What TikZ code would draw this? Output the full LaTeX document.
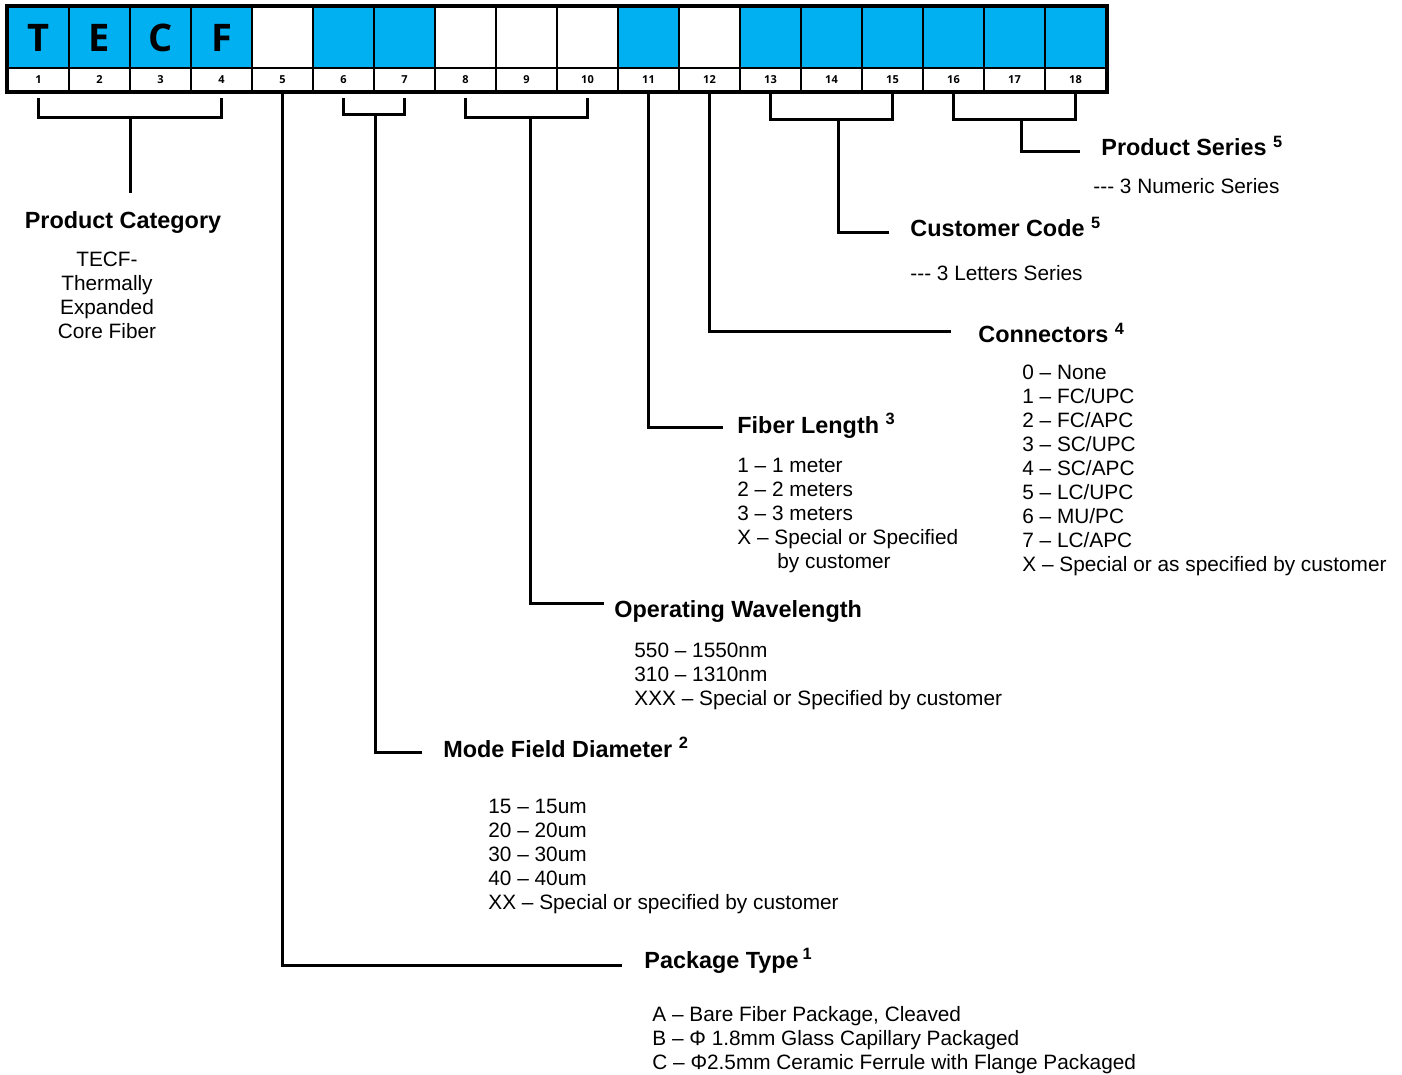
\documentclass[tikz,border=0pt]{standalone}
\usepackage{fontspec}
\setmainfont{Liberation Sans}
\newfontfamily\barfont{Open Sans}
\usepackage{xcolor}
\usepackage{tikz}
\usetikzlibrary{calc,positioning}
\definecolor{codeblue}{RGB}{0,176,240}

\begin{document}
\begin{tikzpicture}[x=0.5pt,y=-0.5pt,
      cell/.style={draw=black,line width=1.2pt,minimum width=30.5pt,minimum height=31pt,inner sep=0pt,
        font=\barfont\bfseries\fontsize{19}{19}\selectfont},
      numcell/.style={draw=black,fill=white,line width=1.2pt,minimum width=30.5pt,minimum height=11.5pt,inner sep=0pt,
        font=\barfont\bfseries\fontsize{5.5}{5.5}\selectfont},
      wire/.style={line width=1.5pt},
      title/.style={anchor=base west,inner sep=0pt,font=\bfseries\fontsize{11.7}{14}\selectfont},
      items/.style={anchor=north west,inner sep=0pt,align=left,font=\fontsize{10.4}{12}\selectfont}]
    \useasboundingbox (0,0) rectangle (1402,1075);
    % code bar
    \foreach \i/\clr/\ltr in {1/codeblue/T,2/codeblue/E,3/codeblue/C,4/codeblue/F,5/white/,6/codeblue/,
        7/codeblue/,8/white/,9/white/,10/white/,11/codeblue/,12/white/,13/codeblue/,14/codeblue/,
        15/codeblue/,16/codeblue/,17/codeblue/,18/codeblue/}{
      \node[cell,fill=\clr] (c\i) at ({38.5+61*(\i-1)},37.5) {\ltr};
      \node[numcell] (n\i) at ({38.5+61*(\i-1)},79.5) {\i};
    }
    \draw[line width=1.5pt] (c1.north west) rectangle (n18.south east);

    % product category
    \coordinate (catbr) at (130,118);
    \coordinate (catend) at (130,193);
    \draw[wire] ([yshift=-3pt]n1.south) |- (catbr) -| ([yshift=-3pt]n4.south);
    \draw[wire] (catbr) -- (catend);
    \node[title,anchor=base] (cat) at (123,229) {Product Category};
    \node[items,anchor=north,align=center] (catlist) at (107,252) {TECF-\\Thermally\\Expanded\\Core Fiber};

    % package type
    \coordinate (pkgend) at (622,965);
    \draw[wire] (n5.south) |- (pkgend);
    \node[title] (pkg) at (644,968) {Package Type\,\textsuperscript{1}};
    \node[items] (pkglist) at (652,1006) {A -- Bare Fiber Package, Cleaved\\B -- Φ 1.8mm Glass Capillary Packaged\\C -- Φ2.5mm Ceramic Ferrule with Flange Packaged};

    % mode field diameter
    \coordinate (mfdbr) at (375,115);
    \coordinate (mfdend) at (422,752);
    \draw[wire] ([yshift=-3pt]n6.south) |- (mfdbr) -| ([yshift=-3pt]n7.south);
    \draw[wire] (mfdbr) |- (mfdend);
    \node[title] (mfd) at (443,757) {Mode Field Diameter \textsuperscript{2}};
    \node[items] (mfdlist) at (488,799) {15 -- 15um\\20 -- 20um\\30 -- 30um\\40 -- 40um\\XX -- Special or specified by customer};

    % operating wavelength
    \coordinate (owlbr) at (530,118);
    \coordinate (owlend) at (604,603);
    \draw[wire] ([yshift=-3pt]n8.south) |- (owlbr) -| ([yshift=-3pt]n10.south);
    \draw[wire] (owlbr) |- (owlend);
    \node[title] (owl) at (614,617) {Operating Wavelength};
    \node[items] (owllist) at (634,643) {550 -- 1550nm\\310 -- 1310nm\\XXX -- Special or Specified by customer};

    % fiber length
    \coordinate (fibend) at (723,427);
    \draw[wire] (n11.south) |- (fibend);
    \node[title] (fib) at (737,433) {Fiber Length \textsuperscript{3}};
    \node[items] (fiblist) at (737,458) {1 -- 1 meter\\2 -- 2 meters\\3 -- 3 meters\\X -- Special or Specified\\\hspace*{20pt}by customer};

    % connectors
    \coordinate (conend) at (951,331);
    \draw[wire] (n12.south) |- (conend);
    \node[title] (con) at (978,343) {Connectors \textsuperscript{4}};
    \node[items] (conlist) at (1022,365) {0 -- None\\1 -- FC/UPC\\2 -- FC/APC\\3 -- SC/UPC\\4 -- SC/APC\\5 -- LC/UPC\\6 -- MU/PC\\7 -- LC/APC\\X -- Special or as specified by customer};

    % customer code
    \coordinate (ccbr) at (838,120);
    \coordinate (ccend) at (889,233);
    \draw[wire] (n13.south) |- (ccbr) -| (n15.south);
    \draw[wire] (ccbr) |- (ccend);
    \node[title] (cc) at (910,237) {Customer Code \textsuperscript{5}};
    \node[items] (cclist) at (910,265) {-{}-{}- 3 Letters Series};

    % product series
    \coordinate (psbr) at (1021,120);
    \coordinate (psend) at (1080,152);
    \draw[wire] (n16.south) |- (psbr) -| (n18.south);
    \draw[wire] (psbr) |- (psend);
    \node[title] (ps) at (1101,156) {Product Series \textsuperscript{5}};
    \node[items] (pslist) at (1093,178) {-{}-{}- 3 Numeric Series};
  \end{tikzpicture}
\end{document}
